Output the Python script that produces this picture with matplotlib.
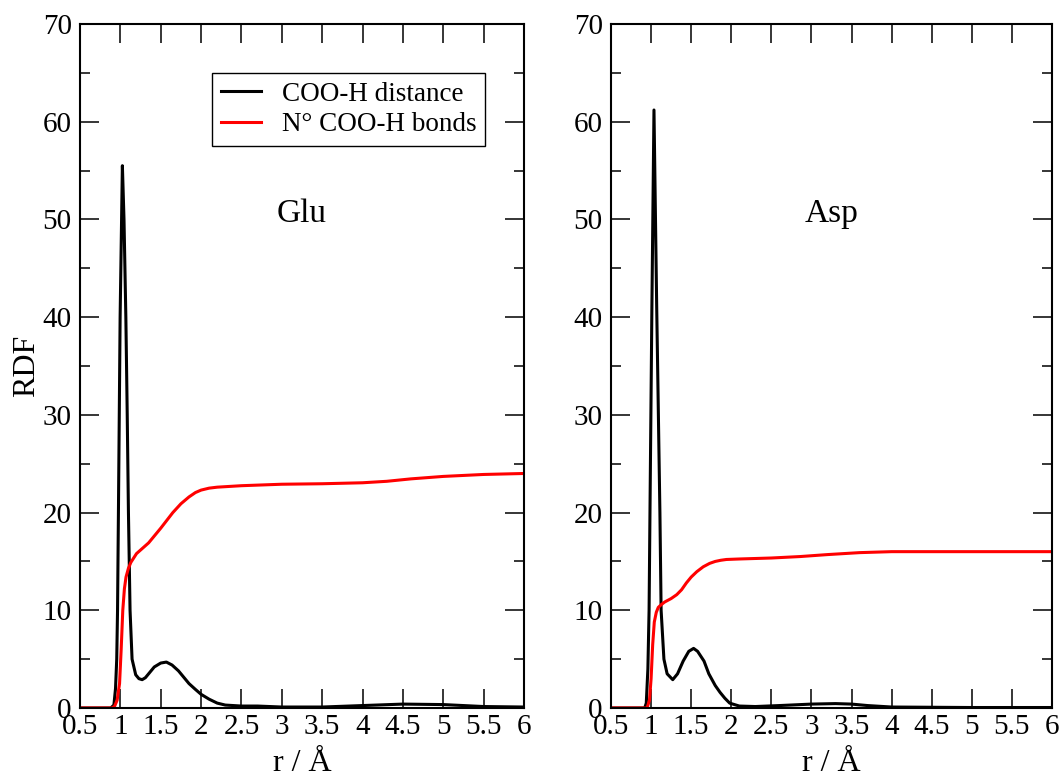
import matplotlib
matplotlib.use("Agg")
import matplotlib.pyplot as plt
from matplotlib.ticker import MultipleLocator

plt.rcParams['font.family'] = ['Liberation Serif', 'DejaVu Serif']

# ---- Glu ----
glu_r_rdf = [0.5, 0.88, 0.92, 0.94, 0.955, 0.965, 0.976, 0.997, 1.025, 1.045, 1.068, 1.085,
             1.1, 1.12, 1.145, 1.19, 1.23, 1.27, 1.31, 1.36, 1.42, 1.5, 1.57, 1.64,
             1.72, 1.8, 1.85, 1.93, 2.0, 2.1, 2.2, 2.3, 2.5, 2.7, 3.0, 3.5, 4.0, 4.5,
             5.0, 5.5, 6.0]
glu_rdf = [0.0, 0.0, 0.3, 2.0, 5.0, 10.0, 20.0, 40.0, 55.5, 50.0, 40.0, 30.0,
           20.0, 10.0, 5.0, 3.4, 3.0, 2.9, 3.1, 3.6, 4.2, 4.6, 4.7, 4.4,
           3.8, 3.0, 2.5, 1.9, 1.4, 0.9, 0.5, 0.3, 0.2, 0.2, 0.1, 0.1, 0.25, 0.4,
           0.35, 0.15, 0.1]

glu_r_n = [0.5, 0.9, 0.93, 0.96, 0.99, 1.01, 1.03, 1.05, 1.07, 1.1, 1.13, 1.2, 1.35,
           1.5, 1.65, 1.75, 1.85, 1.93, 2.0, 2.1, 2.2, 2.5, 3.0, 3.5, 4.0, 4.3, 4.6, 5.0,
           5.5, 6.0]
glu_n = [0.0, 0.0, 0.2, 0.8, 2.5, 6.0, 10.0, 12.2, 13.4, 14.3, 14.9, 15.8, 16.9,
         18.4, 20.0, 20.9, 21.6, 22.05, 22.3, 22.5, 22.6, 22.75, 22.9, 22.95, 23.05, 23.2,
         23.45, 23.7, 23.9, 24.0]

# ---- Asp ----
asp_r_rdf = [0.5, 0.92, 0.94, 0.96, 0.975, 0.986, 1.01, 1.036, 1.07, 1.11, 1.125, 1.16,
             1.2, 1.27, 1.33, 1.4, 1.47, 1.53, 1.58, 1.62, 1.66, 1.72, 1.8, 1.86,
             1.92, 1.98, 2.1, 2.3, 2.6, 3.0, 3.3, 3.5, 3.7, 4.0, 5.0, 6.0]
asp_rdf = [0.0, 0.0, 0.5, 4.0, 10.0, 20.0, 41.0, 61.2, 41.0, 20.0, 10.0, 5.0,
           3.5, 2.9, 3.5, 4.8, 5.8, 6.1, 5.8, 5.3, 4.8, 3.5, 2.3, 1.6,
           1.0, 0.5, 0.2, 0.15, 0.25, 0.4, 0.45, 0.4, 0.25, 0.1, 0.05, 0.05]

asp_r_n = [0.5, 0.95, 0.98, 1.0, 1.02, 1.04, 1.065, 1.09, 1.13, 1.17, 1.25, 1.32, 1.38,
           1.44, 1.5, 1.57, 1.65, 1.73, 1.8, 1.87, 1.94, 2.1, 2.5, 2.86, 3.2, 3.6,
           4.0, 5.0, 6.0]
asp_n = [0.0, 0.0, 0.8, 3.0, 6.5, 8.8, 9.8, 10.3, 10.6, 10.85, 11.2, 11.6, 12.1,
         12.8, 13.4, 13.95, 14.45, 14.8, 15.0, 15.12, 15.2, 15.25, 15.35, 15.5, 15.7, 15.9,
         16.0, 16.0, 16.0]

xticks = [0.5, 1, 1.5, 2, 2.5, 3, 3.5, 4, 4.5, 5, 5.5, 6]
xticklabels = ['0.5', '1', '1.5', '2', '2.5', '3', '3.5', '4', '4.5', '5', '5.5', '6']
yticks = [0, 10, 20, 30, 40, 50, 60, 70]

label_rdf = "COO-H distance"
label_n = "N° COO-H bonds"

W, H = 1062, 780
fig = plt.figure(figsize=(W / 100, H / 100), dpi=100)
ax1 = fig.add_axes([80 / W, 1 - 708 / H, 444 / W, 684 / H])
ax2 = fig.add_axes([611 / W, 1 - 708 / H, 441 / W, 684 / H])

panels = [
    (ax1, glu_r_rdf, glu_rdf, glu_r_n, glu_n, "Glu"),
    (ax2, asp_r_rdf, asp_rdf, asp_r_n, asp_n, "Asp"),
]

for ax, rr, g, rn, n, name in panels:
    ax.plot(rr, g, color='black', lw=2.2, label=label_rdf)
    ax.plot(rn, n, color='#ff0000', lw=2.2, label=label_n)
    ax.set_xlim(0.5, 6)
    ax.set_ylim(0, 70)
    ax.set_xticks(xticks)
    ax.set_xticklabels(xticklabels)
    ax.set_yticks(yticks)
    ax.yaxis.set_minor_locator(MultipleLocator(5))
    ax.tick_params(which='both', direction='in', top=True, right=True,
                   labelsize=21, width=1.1, color='black')
    ax.tick_params(which='major', length=13.5, pad=4)
    ax.tick_params(which='minor', length=7)
    ax.tick_params(axis='y', pad=6)
    for s in ax.spines.values():
        s.set_linewidth(1.5)
    ax.set_xlabel("r / Å", fontsize=23, labelpad=7)
    ax.text(3.25, 50.6, name, fontsize=24, ha='center', va='center')

ax1.set_ylabel("RDF", fontsize=23, labelpad=1)

leg = ax1.legend(loc='upper right', bbox_to_anchor=(0.912, 0.928), borderaxespad=0,
                 fontsize=19.5, frameon=True, fancybox=False, framealpha=1,
                 edgecolor='black', handlelength=1.5, handletextpad=0.75,
                 borderpad=0.32, labelspacing=0.2)
leg.get_frame().set_linewidth(1.0)

fig.savefig("out.png", dpi=100)
